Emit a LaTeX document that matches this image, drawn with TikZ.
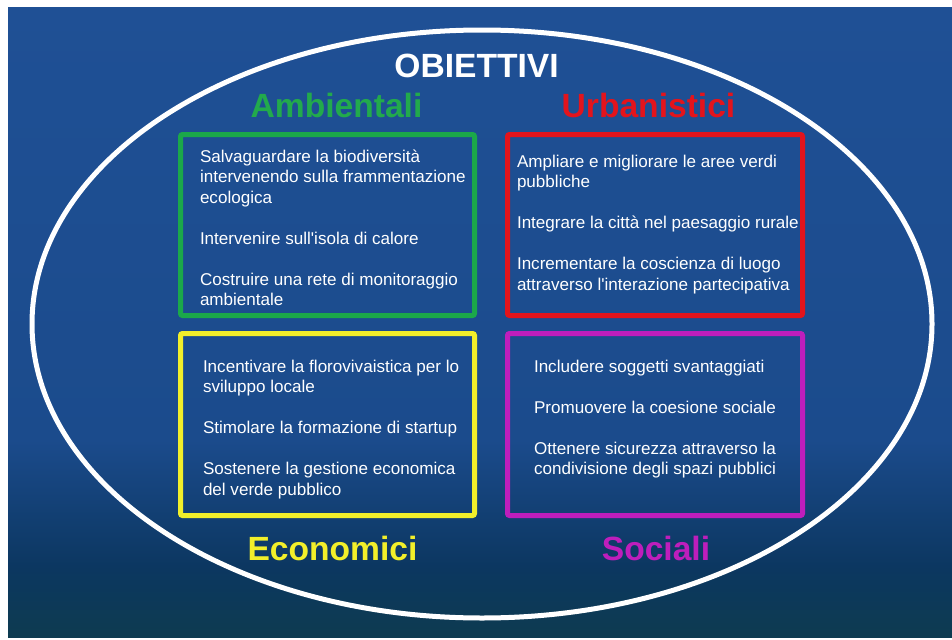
\documentclass[tikz,border=0pt]{standalone}
\usepackage{fontspec}
\newfontfamily\arialf{Liberation Sans}
\definecolor{bgtop}{HTML}{1F5095}
\definecolor{bgmid}{HTML}{1B4B8C}
\definecolor{bgdark}{HTML}{0C3761}
\definecolor{bgbot}{HTML}{0D3B50}
\definecolor{gbox}{HTML}{1BA84A}
\definecolor{gtext}{HTML}{22AA4C}
\definecolor{rbox}{HTML}{E3141C}
\definecolor{ybox}{HTML}{F2EF2A}
\definecolor{mbox}{HTML}{BE1EBC}
\begin{document}
\begin{tikzpicture}[x=0.75pt,y=-0.75pt,
  boxline/.style={line width=3.75pt, rounded corners=1.5pt},
  body/.style={anchor=north west, inner sep=0pt, outer sep=0pt, align=left, text=white,
    font=\arialf\fontsize{12.8pt}{15.4pt}\selectfont},
  title/.style={anchor=base, inner sep=0pt, outer sep=0pt,
    font=\arialf\bfseries\fontsize{25.2pt}{30pt}\selectfont}]
\useasboundingbox (0,0) rectangle (952,639);
\fill[white] (0,0) rectangle (952,639);
% background
\shade[top color=bgtop, bottom color=bgmid] (8,7) rectangle (952,441);
\shade[top color=bgmid, bottom color=bgdark] (8,440) rectangle (952,566);
\shade[top color=bgdark, bottom color=bgbot] (8,565) rectangle (952,637);
% ellipse
\draw[white, line width=3.75pt] (482,324) ellipse [x radius=450, y radius=294];
% boxes
\draw[boxline, gbox] (180.5,134.5) rectangle (474.5,315.5);
\draw[boxline, rbox] (507.5,134.5) rectangle (802.5,315.5);
\draw[boxline, ybox] (180.5,333.5) rectangle (474.5,515.5);
\draw[boxline, mbox] (507.5,333.5) rectangle (802.5,515.5);
% titles
\node[title, text=white] (obj) at (476.5,77) {OBIETTIVI};
\node[title, text=gtext] (amb) at (336.5,117) {Ambientali};
\node[title, text=rbox] (urb) at (648.5,117) {Urbanistici};
\node[title, text=ybox] (eco) at (332.5,560) {Economici};
\node[title, text=mbox] (soc) at (656,560) {Sociali};
% texts
\node[body] (tamb) at (200,146) {\rule{0pt}{12pt}Salvaguardare la biodiversità\\intervenendo sulla frammentazione\\ecologica\\[15.4pt]Intervenire sull'isola di calore\\[15.4pt]Costruire una rete di monitoraggio\\ambientale};
\node[body] (turb) at (517,151) {\rule{0pt}{12pt}Ampliare e migliorare le aree verdi\\pubbliche\\[15.4pt]Integrare la città nel paesaggio rurale\\[15.4pt]Incrementare la coscienza di luogo\\attraverso l'interazione partecipativa};
\node[body] (teco) at (203,356) {\rule{0pt}{12pt}Incentivare la florovivaistica per lo\\sviluppo locale\\[15.4pt]Stimolare la formazione di startup\\[15.4pt]Sostenere la gestione economica\\del verde pubblico};
\node[body] (tsoc) at (534,356) {\rule{0pt}{12pt}Includere soggetti svantaggiati\\[15.4pt]Promuovere la coesione sociale\\[15.4pt]Ottenere sicurezza attraverso la\\condivisione degli spazi pubblici};
\end{tikzpicture}
\end{document}
